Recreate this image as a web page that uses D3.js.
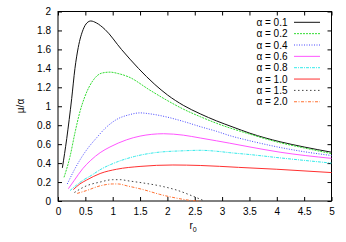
<!DOCTYPE html>
<html>
<head>
<meta charset="utf-8">
<script src="https://cdn.jsdelivr.net/npm/d3@7"></script>
<style>
  body { margin: 0; background: #fff; }
  svg { font-family: "Liberation Sans", Arial, sans-serif; }
</style>
</head>
<body>
<div id="chart"></div>
<script>
// values
const labels = ['α = 0.1', 'α = 0.2', 'α = 0.4', 'α = 0.6', 'α = 0.8', 'α = 1.0', 'α = 1.5', 'α = 2.0'];

const r01 = [0.08, 0.16, 0.25, 0.31, 0.37, 0.46, 0.53, 0.60, 0.70, 0.86, 1.16, 1.47, 1.77, 2.0, 2.29, 2.6, 2.9, 3.2, 3.51, 4.06, 4.5, 5.0];
const v01 = [0.35, 0.66, 1.08, 1.40, 1.62, 1.81, 1.88, 1.90, 1.88, 1.81, 1.60, 1.40, 1.23, 1.12, 1.01, 0.92, 0.845, 0.78, 0.715, 0.625, 0.57, 0.515];

const r02 = [0.11, 0.22, 0.31, 0.40, 0.49, 0.65, 0.80, 0.95, 1.1, 1.29, 1.68, 2.0, 2.29, 2.6, 2.9, 3.51, 4.06, 4.5, 5.0];
const v02 = [0.25, 0.47, 0.72, 0.94, 1.10, 1.28, 1.35, 1.36, 1.345, 1.31, 1.17, 1.06, 0.97, 0.89, 0.82, 0.705, 0.615, 0.56, 0.50];

const r04 = [0.17, 0.30, 0.43, 0.55, 0.71, 0.85, 1.07, 1.3, 1.5, 1.68, 2.0, 2.29, 2.6, 2.9, 3.14, 3.51, 4.06, 4.5, 5.0];
const v04 = [0.18, 0.33, 0.46, 0.56, 0.67, 0.76, 0.86, 0.91, 0.93, 0.92, 0.885, 0.84, 0.785, 0.735, 0.69, 0.635, 0.565, 0.52, 0.48];

const r06 = [0.19, 0.30, 0.45, 0.60, 0.77, 0.95, 1.25, 1.5, 1.93, 2.29, 2.6, 2.9, 3.14, 3.51, 4.06, 5.0];
const v06 = [0.13, 0.22, 0.34, 0.43, 0.51, 0.57, 0.645, 0.685, 0.71, 0.695, 0.665, 0.635, 0.61, 0.57, 0.515, 0.45];

const r08 = [0.22, 0.46, 0.61, 0.77, 1.07, 1.4, 1.77, 2.29, 2.6, 2.9, 3.14, 3.51, 4.06, 5.0];
const v08 = [0.11, 0.22, 0.27, 0.33, 0.41, 0.47, 0.51, 0.53, 0.535, 0.525, 0.51, 0.49, 0.455, 0.40];

const r10 = [0.28, 0.40, 0.52, 0.77, 1.07, 1.5, 2.1, 2.6, 3.3, 4.0, 5.0];
const v10 = [0.12, 0.18, 0.22, 0.29, 0.335, 0.365, 0.38, 0.375, 0.355, 0.335, 0.30];

const r15 = [0.30, 0.52, 0.77, 1.0, 1.15, 1.26, 1.56, 1.86, 2.17, 2.47, 2.68];
const v15 = [0.09, 0.16, 0.20, 0.225, 0.225, 0.215, 0.19, 0.16, 0.115, 0.05, 0.0];

const r20 = [0.35, 0.52, 0.77, 1.0, 1.1, 1.26, 1.56, 1.86, 2.17, 2.45, 2.6];
const v20 = [0.08, 0.11, 0.16, 0.18, 0.18, 0.16, 0.12, 0.07, 0.03, 0.005, 0.0];

const xTicks = [0, 0.5, 1, 1.5, 2, 2.5, 3, 3.5, 4, 4.5, 5];
const yTicks = [0, 0.2, 0.4, 0.6, 0.8, 1, 1.2, 1.4, 1.6, 1.8, 2];

const seriesR = [r01, r02, r04, r06, r08, r10, r15, r20];
const seriesV = [v01, v02, v04, v06, v08, v10, v15, v20];

const colors = ['#111111', '#33dd33', '#4848ff', '#ff55ff', '#33eaea', '#ff3030', '#444444', '#ff7030'];
const dashes = [null, '2,1', '1,1.5', null, '3,1,1,1', null, '1.5,2.5', '3,1.5,1,1.5'];

const W = 346, H = 242;
const margin = {top: 11.5, right: 14.5, bottom: 41, left: 58};

const svg = d3.select('#chart').append('svg')
  .attr('width', W)
  .attr('height', H);

const x = d3.scaleLinear().domain([0, 5]).range([margin.left, W - margin.right]);
const y = d3.scaleLinear().domain([0, 2]).range([H - margin.bottom, margin.top]);

// ticks on all four sides, pointing inward
const tick = 4;
svg.append('g')
  .attr('transform', 'translate(0,' + y(0) + ')')
  .call(d3.axisBottom(x).tickValues(xTicks).tickSize(-tick).tickPadding(7).tickFormat(d3.format('')));
svg.append('g')
  .attr('transform', 'translate(0,' + y(2) + ')')
  .call(d3.axisTop(x).tickValues(xTicks).tickSize(-tick).tickFormat(''));
svg.append('g')
  .attr('transform', 'translate(' + x(0) + ',0)')
  .call(d3.axisLeft(y).tickValues(yTicks).tickSize(-tick).tickPadding(7).tickFormat(d3.format('')));
svg.append('g')
  .attr('transform', 'translate(' + x(5) + ',0)')
  .call(d3.axisRight(y).tickValues(yTicks).tickSize(-tick).tickFormat(''));

svg.selectAll('.domain').remove();
svg.selectAll('.tick line').attr('stroke', '#000');
svg.selectAll('.tick text').attr('font-size', 10).attr('fill', '#000')
  .attr('font-family', '"Liberation Sans", Arial, sans-serif');

svg.append('rect')
  .attr('x', x(0)).attr('y', y(2))
  .attr('width', x(5) - x(0)).attr('height', y(0) - y(2))
  .attr('fill', 'none').attr('stroke', '#000').attr('stroke-width', 1);

const lineGen = d3.line()
  .x(d => x(d[0]))
  .y(d => y(d[1]))
  .curve(d3.curveMonotoneX);

seriesR.forEach((rs, i) => {
  const pts = rs.map((r, j) => [r, seriesV[i][j]]);
  svg.append('path')
    .attr('d', lineGen(pts))
    .attr('fill', 'none')
    .attr('stroke', colors[i])
    .attr('stroke-width', 1)
    .attr('stroke-dasharray', dashes[i]);
});

// legend
const legend = svg.append('g');
labels.forEach((lab, i) => {
  const ly = 22.3 + i * 11.35;
  legend.append('text')
    .attr('x', 287.5).attr('y', ly + 3.5)
    .attr('text-anchor', 'end')
    .attr('font-size', 10)
    .text(lab);
  legend.append('line')
    .attr('x1', 294).attr('x2', 320)
    .attr('y1', ly).attr('y2', ly)
    .attr('stroke', colors[i])
    .attr('stroke-width', 1)
    .attr('stroke-dasharray', dashes[i]);
});

// axis labels
const xl = svg.append('text')
  .attr('x', 193).attr('y', 229)
  .attr('font-size', 10)
  .attr('text-anchor', 'middle');
xl.append('tspan').text('r');
xl.append('tspan').attr('font-size', 7).attr('dy', 3).text('0');

svg.append('text')
  .attr('transform', 'translate(24,106) rotate(-90)')
  .attr('text-anchor', 'middle')
  .attr('font-size', 10)
  .text('μ/α');
</script>
</body>
</html>
